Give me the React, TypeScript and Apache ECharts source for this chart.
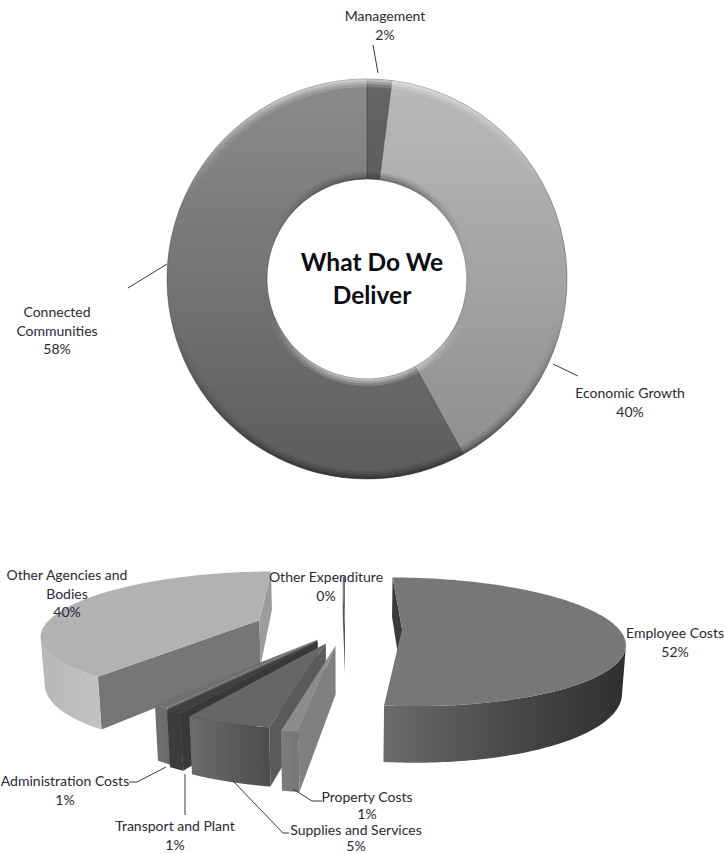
import React, { useEffect, useRef } from "react";
import * as echarts from "echarts";

// Ring chart: what the service delivers (percent of budget)
const deliverNames = ["Management", "Economic Growth", "Connected Communities"];
const deliverValues = [2, 40, 58];
const deliverLabels = ["Management", "Economic Growth", "Connected\nCommunities"];

// Exploded 3D pie: where the money goes, clockwise from twelve o'clock.
// Other Expenditure is a tiny share that rounds to 0%.
const costNames = [
  "Employee Costs",
  "Property Costs",
  "Supplies and Services",
  "Transport and Plant",
  "Administration Costs",
  "Other Agencies and Bodies",
  "Other Expenditure",
];
const costValues = [52, 1, 5, 1, 1, 40, 0.2];
const costLabels = [
  "Employee Costs",
  "Property Costs",
  "Supplies and Services",
  "Transport and Plant",
  "Administration Costs",
  "Other Agencies and\nBodies",
  "Other Expenditure",
];

const WIDTH = 725;
const HEIGHT = 854;
const FONT = "Lato, 'Open Sans', sans-serif";
const INK = "#2a2a35";

// Ring geometry
const RING = { cx: 367, cy: 279, outer: 200, inner: 100 };

// Camera and solid for the 3D pie
const PIE = { cx: 345, cy: 628, radius: 216, height: 49, sinTilt: 0.284, distance: 1040 };
const cosTilt = Math.sqrt(1 - PIE.sinTilt * PIE.sinTilt);
const explodeBy = [57, 60, 55, 52, 48, 92, 0];

const linearX = (stops: string[]) => ({
  type: "linear",
  x: 0,
  y: 0,
  x2: 1,
  y2: 0,
  colorStops: stops.map((color, i) => ({ offset: i / (stops.length - 1), color })),
});

const faceStyles = [
  { top: "#777777", start: "#3a3a3a", end: "#555555", outer: linearX(["#6c6c6c", "#4a4a4a", "#2f2f2f"]) },
  { top: "#8c8c8c", start: "#808080", end: "#707070", outer: linearX(["#7c7c7c", "#767676"]) },
  { top: "#666666", start: "#5a5a5a", end: "#555555", outer: linearX(["#6c6c6c", "#4c4c4c"]) },
  { top: "#404040", start: "#383838", end: "#383838", outer: linearX(["#3c3c3c", "#3c3c3c"]) },
  { top: "#707070", start: "#666666", end: "#666666", outer: linearX(["#707070", "#6a6a6a"]) },
  { top: "#b2b2b2", start: "#767676", end: "#9c9c9c", outer: linearX(["#b8b8b8", "#c2c2c2"]) },
  { top: "#707070", start: "#555555", end: "#444444", outer: linearX(["#555555", "#555555"]) },
];

type P3 = [number, number, number];

function project([x, y, z]: P3): [number, number] {
  const depth = y * cosTilt + z * PIE.sinTilt;
  const lift = z * cosTilt - y * PIE.sinTilt;
  const m = PIE.distance / (PIE.distance - depth);
  return [PIE.cx + x * m, PIE.cy - lift * m];
}

const camera: P3 = [0, PIE.distance * cosTilt, PIE.distance * PIE.sinTilt];
const rad = (deg: number) => (deg * Math.PI) / 180;
const total = costValues.reduce((a, b) => a + b, 0);

const angleRanges = (() => {
  let run = 0;
  return costValues.map((v) => {
    const from = run;
    run += (v / total) * 360;
    return [from, run];
  });
})();

const apexOf = (i: number): P3 => {
  const mid = rad((angleRanges[i][0] + angleRanges[i][1]) / 2);
  return [explodeBy[i] * Math.sin(mid), -explodeBy[i] * Math.cos(mid), 0];
};

const rimPoint = (apex: P3, deg: number, z: number): P3 => [
  apex[0] + PIE.radius * Math.sin(rad(deg)),
  apex[1] - PIE.radius * Math.cos(rad(deg)),
  z,
];

const faces = (n: [number, number], at: P3) =>
  n[0] * (camera[0] - at[0]) + n[1] * (camera[1] - at[1]) > 0;

// Far slices are painted first so nearer ones cover them
const paintOrder = costValues
  .map((_, i) => i)
  .sort((a, b) => {
    const reach = (i: number) => {
      const mid = rad((angleRanges[i][0] + angleRanges[i][1]) / 2);
      return -(explodeBy[i] + PIE.radius / 2) * Math.cos(mid);
    };
    return reach(a) - reach(b);
  });

function renderSlice(_params: any, api: any) {
  const i = api.value(1) as number;
  const [a0, a1] = angleRanges[i];
  const apex = apexOf(i);
  const low = -PIE.height;
  const style = faceStyles[i];
  const children: any[] = [];

  const quad = (pts: P3[], fill: any) =>
    children.push({ type: "polygon", shape: { points: pts.map(project) }, style: { fill } });

  // Cut faces, when they turn towards the camera
  const apexLow: P3 = [apex[0], apex[1], low];
  if (faces([-Math.cos(rad(a0)), -Math.sin(rad(a0))], apex)) {
    quad([apex, rimPoint(apex, a0, 0), rimPoint(apex, a0, low), apexLow], style.start);
  }
  if (faces([Math.cos(rad(a1)), Math.sin(rad(a1))], apex)) {
    quad([apex, rimPoint(apex, a1, 0), rimPoint(apex, a1, low), apexLow], style.end);
  }

  // Curved outer wall, kept to the part that faces the camera
  const seen: number[] = [];
  const steps = Math.max(2, Math.ceil(a1 - a0));
  for (let s = 0; s <= steps; s++) {
    const deg = a0 + ((a1 - a0) * s) / steps;
    const at = rimPoint(apex, deg, 0);
    if (faces([Math.sin(rad(deg)), -Math.cos(rad(deg))], at)) seen.push(deg);
  }
  if (seen.length > 1) {
    quad(
      [...seen.map((d) => rimPoint(apex, d, 0)), ...[...seen].reverse().map((d) => rimPoint(apex, d, low))],
      style.outer,
    );
  }

  // Top face
  const top: P3[] = [apex];
  for (let s = 0; s <= steps; s++) top.push(rimPoint(apex, a0 + ((a1 - a0) * s) / steps, 0));
  quad(top, style.top);

  return { type: "group", children };
}

const verticalGlobal = (stops: [number, string][]) => ({
  type: "linear",
  global: true,
  x: 0,
  y: RING.cy - RING.outer,
  x2: 0,
  y2: RING.cy + RING.outer,
  colorStops: stops.map(([offset, color]) => ({ offset, color })),
});

const ringFills = [
  verticalGlobal([[0, "#666666"], [1, "#444444"]]),
  verticalGlobal([[0, "#bababa"], [1, "#8c8c8c"]]),
  verticalGlobal([[0, "#8c8c8c"], [1, "#5c5c5c"]]),
];

const ringBase = {
  type: "pie",
  center: [RING.cx, RING.cy],
  startAngle: 90,
  silent: true,
  label: { show: false },
  labelLine: { show: false },
  emphasis: { disabled: true },
};

const ringData = (itemStyle: (i: number) => any) =>
  deliverValues.map((value, i) => ({ name: deliverNames[i], value, itemStyle: itemStyle(i) }));

// Bevel: stacked thin rings whose strength fades away from the edge
const outerBevel = (strength: number) =>
  verticalGlobal([
    [0, `rgba(240,240,240,${0.55 * strength})`],
    [0.3, "rgba(200,200,200,0)"],
    [0.6, "rgba(60,60,60,0)"],
    [1, `rgba(30,30,30,${0.5 * strength})`],
  ]);
const innerBevel = (strength: number) =>
  verticalGlobal([
    [0.25, `rgba(40,40,40,${0.35 * strength})`],
    [0.45, "rgba(120,120,120,0)"],
    [0.6, "rgba(200,200,200,0)"],
    [0.75, `rgba(235,235,235,${0.55 * strength})`],
  ]);
const bevelRing = (from: number, to: number, fill: any) => ({
  ...ringBase,
  radius: [from, to],
  data: ringData(() => ({ color: fill })),
});

// Label anchors (block centres and line height) and their leader lines
const deliverAnchors = [
  [385, 25, 18.5],
  [630, 402, 18.5],
  [57, 330, 18.5],
];
const deliverLeaders = [
  [[373, 45], [378, 73]],
  [[553, 364], [578, 376]],
  [[128, 288], [167, 264]],
];
const costAnchors = [
  [675, 642, 18.5],
  [367, 805, 16.5],
  [356, 837.5, 16.5],
  [175, 835, 18.5],
  [65, 790, 18.5],
  [67, 593, 18.5],
  [326, 586, 18.5],
];
const costLeaders = [
  [[129, 782], [137, 782], [166, 767]],
  [[185, 774], [185, 815]],
  [[233, 781], [283, 833], [289, 833]],
  [[293, 789], [312, 801], [322, 801]],
];

const textEl = (text: string, [x, y, lineHeight]: number[]) => ({
  type: "text",
  x,
  y,
  z: 10,
  silent: true,
  style: {
    text,
    fill: INK,
    font: `14px ${FONT}`,
    lineHeight,
    align: "center",
    verticalAlign: "middle",
  },
});

const leaderEl = (points: number[][]) => ({
  type: "polyline",
  z: 10,
  silent: true,
  shape: { points },
  style: { stroke: "#3a3a3a", lineWidth: 1, fill: "none" },
});

export default function App() {
  const ref = useRef<HTMLDivElement>(null);

  useEffect(() => {
    const chart = echarts.init(ref.current!, undefined, { renderer: "svg" });
    chart.setOption({
      animation: false,
      backgroundColor: "#ffffff",
      title: {
        text: "What Do We\nDeliver",
        left: 372,
        top: 245,
        textAlign: "center",
        padding: 0,
        textStyle: {
          fontFamily: FONT,
          fontWeight: "bold",
          fontSize: 24.5,
          lineHeight: 33,
          color: "#0c0c12",
        },
      },
      series: [
        {
          ...ringBase,
          radius: [RING.inner, RING.outer],
          data: ringData((i) => ({ color: ringFills[i], borderColor: "rgba(60,60,60,0.45)", borderWidth: 1 })),
        },
        bevelRing(RING.outer - 8, RING.outer, outerBevel(0.35)),
        bevelRing(RING.outer - 5, RING.outer, outerBevel(0.5)),
        bevelRing(RING.outer - 2.5, RING.outer, outerBevel(0.7)),
        bevelRing(RING.inner, RING.inner + 7, innerBevel(0.35)),
        bevelRing(RING.inner, RING.inner + 4.5, innerBevel(0.5)),
        bevelRing(RING.inner, RING.inner + 2, innerBevel(0.7)),
        {
          type: "custom",
          coordinateSystem: "none",
          silent: true,
          renderItem: renderSlice,
          data: paintOrder.map((i) => ({ name: costNames[i], value: [costValues[i], i] })),
        },
      ],
      graphic: {
        elements: [
          ...deliverLeaders.map(leaderEl),
          ...costLeaders.map(leaderEl),
          ...deliverValues.map((v, i) => textEl(`${deliverLabels[i]}\n${v}%`, deliverAnchors[i])),
          ...costValues.map((v, i) => textEl(`${costLabels[i]}\n${Math.round(v)}%`, costAnchors[i])),
        ],
      },
    });
    return () => chart.dispose();
  }, []);

  return (
    <div
      ref={ref}
      style={{ position: "absolute", left: 0, top: 0, width: WIDTH, height: HEIGHT, background: "#fff" }}
    />
  );
}
